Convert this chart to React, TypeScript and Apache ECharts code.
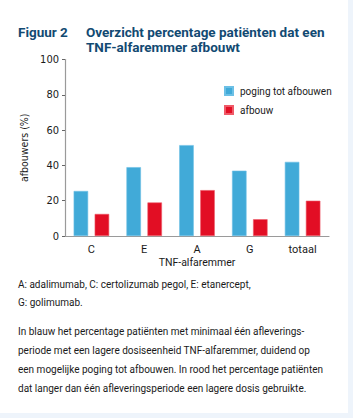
import React, { useEffect, useRef } from "react";
import * as echarts from "echarts";

const categories = ["C", "E", "A", "G", "totaal"];
const pogingValues = [25.5, 39, 51.5, 37, 42];
const afbouwValues = [12.5, 19, 26, 9.5, 20];
const seriesNames = ["poging tot afbouwen", "afbouw"];
const yAxisName = "afbouwers (%)";
const xAxisName = "TNF-alfaremmer";
const titleLabel = "Figuur 2";
const titleLines = ["Overzicht percentage patiënten dat een", "TNF-alfaremmer afbouwt"];
const footLines1 = ["A: adalimumab, C: certolizumab pegol, E: etanercept,", "G: golimumab."];
const footLines2 = [
  "In blauw het percentage patiënten met minimaal één afleverings-",
  "periode met een lagere dosiseenheid TNF-alfaremmer, duidend op",
  "een mogelijke poging tot afbouwen. In rood het percentage patiënten",
  "dat langer dan één afleveringsperiode een lagere dosis gebruikte.",
];

const TITLE_COLOR = "#124a72";
const BLUE = "#41aad8";
const RED = "#e20e24";
const NARROW = "'Liberation Sans Narrow', 'DejaVu Sans Condensed', 'Roboto', sans-serif";
const BODY = "'Roboto', 'Noto Sans', sans-serif";

export default function App() {
  const ref = useRef<HTMLDivElement>(null);
  useEffect(() => {
    document.body.style.margin = "0";
    const chart = echarts.init(ref.current!, undefined, { renderer: "svg" });
    const graphic: any[] = [
      { type: "rect", left: 0, top: 0, shape: { width: 353, height: 418 }, style: { fill: "#eef4fb" }, z: -10 },
      { type: "rect", left: 0, top: 0, shape: { width: 348, height: 413 }, style: { fill: "#ffffff" }, z: -9 },
      {
        type: "text", x: 18, y: 32,
        style: { text: titleLabel, fill: TITLE_COLOR, font: `bold 13.5px ${BODY}`, verticalAlign: "middle" },
      },
    ];
    titleLines.forEach((t, i) => {
      graphic.push({
        type: "text", x: 86, y: 32 + i * 15,
        style: { text: t, fill: TITLE_COLOR, font: `bold 13.5px ${BODY}`, verticalAlign: "middle" },
      });
    });
    footLines1.forEach((t, i) => {
      graphic.push({
        type: "text", x: 18, y: 284 + i * 18.5,
        style: { text: t, fill: "#1a1a1a", font: `10px ${BODY}`, verticalAlign: "middle" },
      });
    });
    footLines2.forEach((t, i) => {
      graphic.push({
        type: "text", x: 18, y: 331 + i * 19,
        style: { text: t, fill: "#1a1a1a", font: `10px ${BODY}`, verticalAlign: "middle" },
      });
    });

    chart.setOption({
      animation: false,
      backgroundColor: "transparent",
      graphic,
      grid: { left: 65, right: 24, top: 59.5, bottom: 182 },
      legend: {
        orient: "vertical",
        left: 219,
        top: 81,
        itemWidth: 8,
        itemHeight: 8,
        itemGap: 9,
        icon: "rect",
        textStyle: { fontSize: 10, color: "#1a1a1a", fontFamily: BODY, padding: [0, 0, 0, 2] },
        data: seriesNames,
      },
      xAxis: {
        type: "category",
        data: categories,
        name: xAxisName,
        nameLocation: "middle",
        nameGap: 21,
        nameTextStyle: { fontSize: 10.5, color: "#1a1a1a", fontFamily: BODY },
        axisLine: { lineStyle: { color: "#9a9a9a", width: 1.2 } },
        axisTick: { alignWithLabel: true, length: 4, lineStyle: { color: "#666" } },
        axisLabel: { fontSize: 11, color: "#1a1a1a", fontFamily: BODY, margin: 8 },
      },
      yAxis: {
        type: "value",
        min: 0,
        max: 100,
        interval: 20,
        name: yAxisName,
        nameLocation: "middle",
        nameGap: 35,
        nameRotate: 90,
        nameTextStyle: { fontSize: 10.5, color: "#1a1a1a", fontFamily: NARROW },
        axisLine: { show: true, lineStyle: { color: "#9a9a9a", width: 1.2 } },
        axisTick: { show: true, length: 3, lineStyle: { color: "#666" } },
        axisLabel: { fontSize: 11, color: "#1a1a1a", fontFamily: NARROW, margin: 6 },
        splitLine: { show: false },
      },
      series: [
        {
          name: seriesNames[0],
          type: "bar",
          data: pogingValues,
          barWidth: 14.5,
          barGap: "45%",
          itemStyle: { color: BLUE, borderColor: "#6cc0e6", borderWidth: 0.6 },
        },
        {
          name: seriesNames[1],
          type: "bar",
          data: afbouwValues,
          barWidth: 14.5,
          itemStyle: { color: RED, borderColor: "#ef5a68", borderWidth: 0.6 },
        },
      ],
    });
    return () => chart.dispose();
  }, []);
  return <div ref={ref} style={{ width: 353, height: 418 }} />;
}
